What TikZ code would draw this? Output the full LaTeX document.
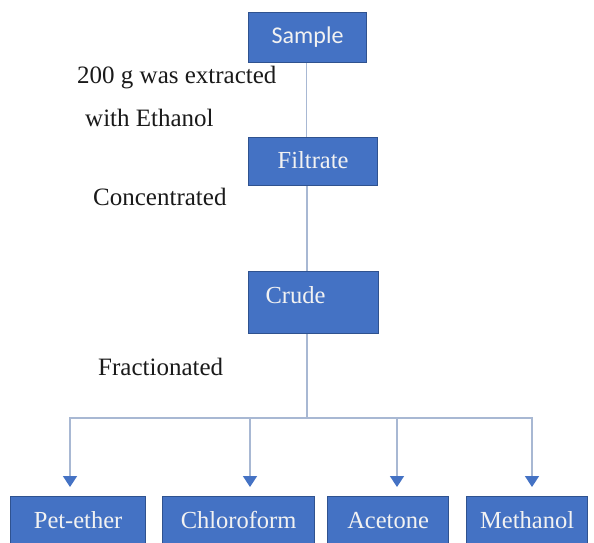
\documentclass[tikz,border=0pt]{standalone}
\usepackage{fontspec}
\setmainfont{Liberation Serif}
\newfontfamily\calibrifont{Carlito}
\usetikzlibrary{arrows.meta}
\definecolor{boxblue}{HTML}{4472C4}
\definecolor{boxline}{HTML}{2F528F}
\definecolor{connc}{HTML}{A8B8D3}
\definecolor{txt}{HTML}{1A1A1A}
\begin{document}
\begin{tikzpicture}[x=1pt,y=-1pt,
 box/.style={draw=boxline, fill=boxblue, text=white!95!black, line width=1.2pt, inner sep=0pt, anchor=north west, font=\fontsize{24.5}{28}\selectfont},
 lbl/.style={anchor=base west, text=txt, inner sep=0pt, font=\fontsize{25}{28}\selectfont},
 conn/.style={draw=connc, line width=1.5pt},
 arr/.style={conn, -{Triangle[width=14pt,length=11pt,color=boxblue]}}]
\useasboundingbox (0,0) rectangle (594,542);
\clip (0,0) rectangle (594,542);
\fill[white] (0,0) rectangle (594,542);
% boxes
\node[box, minimum width=118pt, text height=31pt, text depth=19pt, font=\calibrifont\fontsize{24}{28}\selectfont] (sample) at (248,12) {Sample};
\node[box, minimum width=129pt, text height=31pt, text depth=17pt] (filtrate) at (248,137) {Filtrate};
\node[box, text width=96pt, align=left, inner xsep=17pt, text height=32pt, text depth=30pt] (crude) at (248,271) {Crude};
\node[box, minimum width=135pt, text height=32pt, text depth=32pt] (pet) at (10,496) {Pet-ether};
\node[box, minimum width=152pt, text height=32pt, text depth=32pt] (chloro) at (162,496) {Chloroform};
\node[box, minimum width=121pt, text height=32pt, text depth=32pt] (acet) at (327,496) {Acetone};
\node[box, minimum width=121pt, text height=32pt, text depth=32pt] (meth) at (466,496) {Methanol};
% labels
\node[lbl] (l1) at (77,83) {200 g was extracted};
\node[lbl] (l2) at (85,126) {with Ethanol};
\node[lbl] (l3) at (93,205) {Concentrated};
\node[lbl] (l4) at (98,375) {Fractionated};
% connectors
\coordinate (j) at (307,418);
\coordinate (t1) at (70,487);
\coordinate (t2) at (250,487);
\coordinate (t3) at (397,487);
\coordinate (t4) at (532,487);
\draw[conn] ([xshift=-1pt]sample.south) -- ([xshift=-1pt]sample.south |- filtrate.north);
\draw[conn] (j |- filtrate.south) -- (j |- crude.north);
\draw[conn] (j |- crude.south) -- (j);
\draw[arr] (j) -| (t1);
\draw[arr] (j) -| (t2);
\draw[arr] (j) -| (t3);
\draw[arr] (j) -| (t4);
\end{tikzpicture}
\end{document}
